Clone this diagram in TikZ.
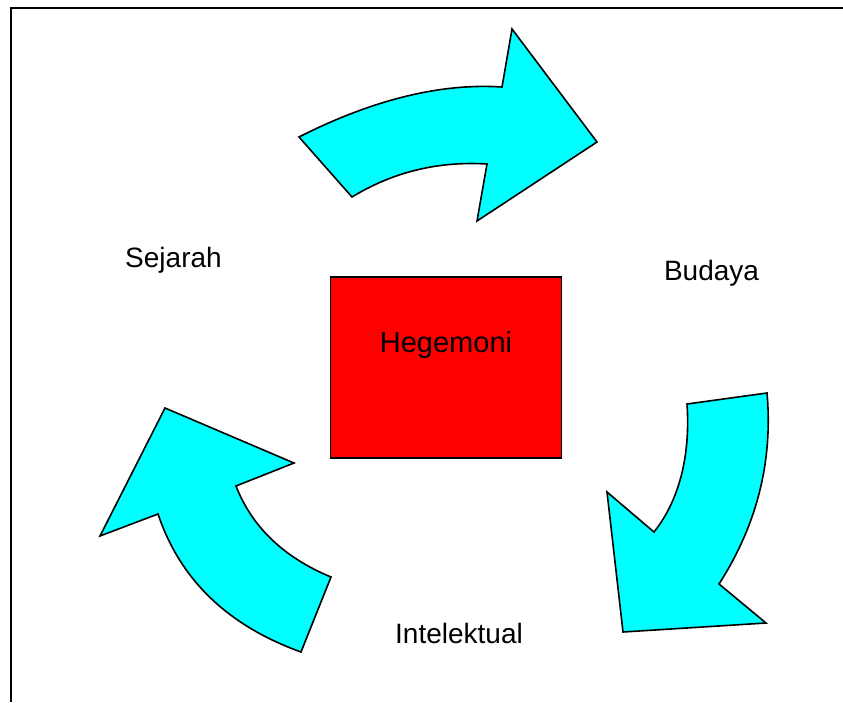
\documentclass[tikz,border=0pt]{standalone}
\usepackage{fontspec}
\setmainfont{Liberation Sans}
\usepackage{tikz}
\usetikzlibrary{arrows.meta}
\definecolor{aqua}{RGB}{0,255,255}
\definecolor{hegred}{RGB}{255,0,0}
\tikzset{%
    bigarrow/.style={fill=aqua, draw=black, line width=1.6pt, line join=miter},
    redbox/.style={rectangle, fill=hegred, draw=black, line width=1.5pt,
        minimum width=231pt, minimum height=181pt, inner sep=0pt},
    word/.style={anchor=base, inner sep=0pt, font=\fontsize{28}{32}\selectfont}
}

\begin{document}
\begin{tikzpicture}[x=1pt,y=-1pt]
    \useasboundingbox (0,0) rectangle (843,702);
    \draw[line width=2pt] (11,702) -- (11,7.5) -- (843,7.5);

    \node[redbox] (box) at (446,367.7) {};
    \node[word, font=\fontsize{29}{33}\selectfont] (heg) at (446,352.7) {Hegemoni};

    % three curved arrows
    \draw[bigarrow] (299,137) .. controls (374,99) and (442,83) .. (502,87) -- (512,29)
        -- (597,142) -- (477,221) -- (487,164) .. controls (438,161) and (393,172) .. (352,197) -- cycle;
    \draw[bigarrow] (767,393) .. controls (773,461) and (757,525) .. (719,584) -- (766,623)
        -- (623,632) -- (607,492) -- (654,532) .. controls (679.5,500) and (690.5,455) .. (687,404) -- cycle;
    \draw[bigarrow] (301,652) .. controls (227.5,625.5) and (180,579.5) .. (158,514) -- (100,536)
        -- (165,408) -- (294,463) -- (236,486) .. controls (252,527) and (283.7,557.4) .. (331,577) -- cycle;

    \node[word] (sej) at (173.5,267) {Sejarah};
    \node[word] (bud) at (711.5,280.7) {Budaya};
    \node[word] (int) at (459,643) {Intelektual};
\end{tikzpicture}
\end{document}
